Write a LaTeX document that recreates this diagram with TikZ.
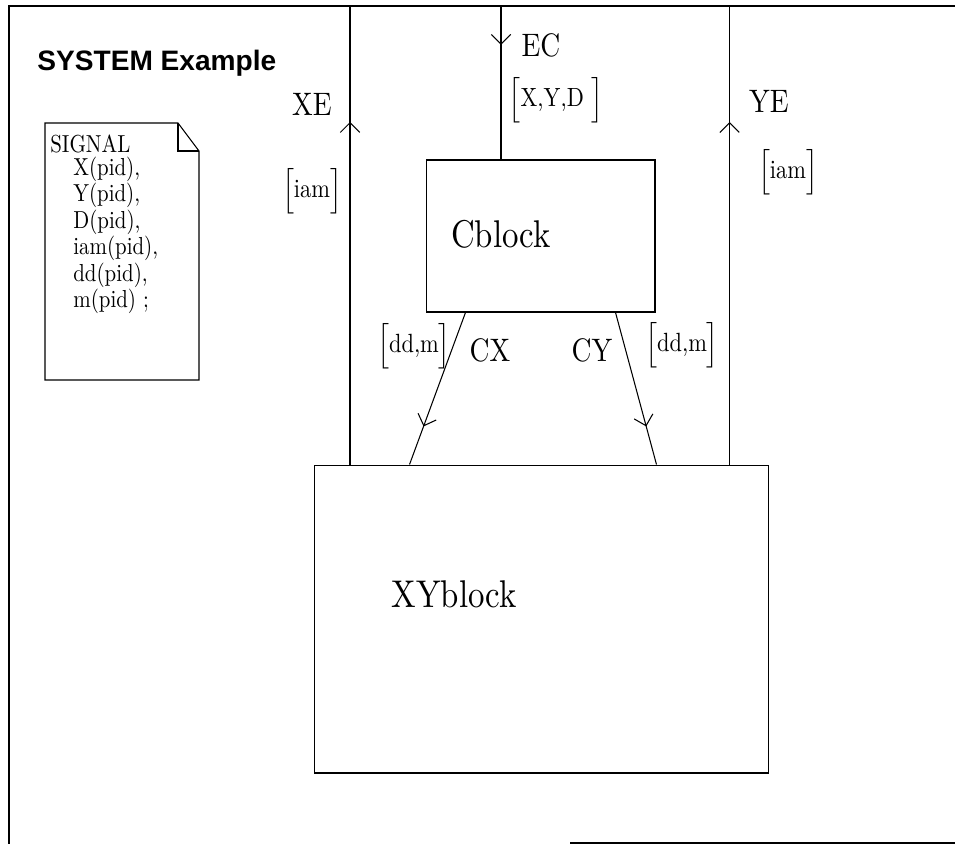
\documentclass[tikz,border=0pt]{standalone}
\usepackage{amsmath}
\usepackage{fontspec}
\setmainfont{lmroman10-regular.otf}[FakeStretch=0.85]
\newfontfamily\titlefont{Liberation Sans}
\usepackage{tikz}
\usetikzlibrary{arrows.meta, positioning, calc, decorations.markings}
\newcommand{\sigset}[1]{$\left[\rule[-6pt]{0pt}{17pt}\text{#1}\right]$}

\begin{document}
\begin{tikzpicture}[
    x=0.02cm, y=-0.02cm,
    every node/.style={inner sep=0pt},
    ln/.style={line width=0.6pt},
    blk/.style={draw, line width=0.6pt, rectangle},
    blktxt/.style={font=\fontsize{22}{26}\selectfont},
    chtxt/.style={font=\fontsize{18.5}{22}\selectfont},
    sigtxt/.style={font=\fontsize{14}{12.9}\selectfont},
    brtxt/.style={font=\fontsize{15}{18}\selectfont},
    midarr/.style={postaction={decorate}, decoration={markings,
        mark=at position #1 with {\arrow{Straight Barb[length=5.5pt,width=11pt]}}}},
]
  \useasboundingbox (0,0) rectangle (955,844);

  \draw[ln] (955,6) -- (9,6) -- (9,844);
  \draw[ln] (570,843) -- (955,843);

  \node[anchor=base west, font=\titlefont\bfseries\fontsize{16}{19}\selectfont] (title) at (37,71) {SYSTEM Example};

  \draw[ln] (45,123) -- (178,123) -- (199,151) -- (199,380) -- (45,380) -- cycle;
  \draw[ln] (178,123) -- (178,151) -- (199,151);
  \node[sigtxt, anchor=north west, align=left] (sig) at (50,135)
    {SIGNAL\\
     \hspace*{0.46cm}X(pid),\\
     \hspace*{0.46cm}Y(pid),\\
     \hspace*{0.46cm}D(pid),\\
     \hspace*{0.46cm}iam(pid),\\
     \hspace*{0.46cm}dd(pid),\\
     \hspace*{0.46cm}m(pid) ;};

  \node[blk, minimum width=4.58cm, minimum height=3.04cm] (Cblock) at (540.5,236) {};
  \node[blk, minimum width=9.1cm, minimum height=6.16cm] (XYblock) at (541.5,619) {};
  \node[blktxt] (ctxt) at (501,234) {Cblock};
  \node[blktxt] (xytxt) at (454,594) {XYblock};

  \coordinate (xe) at (350,6);
  \coordinate (ec) at (501,6);
  \coordinate (ye) at (729.5,6);

  \draw[ln, midarr=0.747] (XYblock.north -| xe) -- (xe);
  \draw[ln, midarr=0.253] (ec) -- (ec |- Cblock.north);
  \draw[ln, midarr=0.747] (XYblock.north -| ye) -- (ye);
  \draw[ln, midarr=0.75] ($(Cblock.south west)+(40,0)$) -- ($(XYblock.north west)+(96,0)$);
  \draw[ln, midarr=0.75] ($(Cblock.south east)+(-40,0)$) -- ($(XYblock.north east)+(-113,0)$);

  \node[chtxt] (lxe) at (312,104) {XE};
  \node[chtxt] (lec) at (541,45) {EC};
  \node[chtxt] (lye) at (769,101) {YE};
  \node[chtxt] (lcx) at (490,350) {CX};
  \node[chtxt] (lcy) at (592,350) {CY};

  \node[brtxt] (sxe) at (312,191) {\sigset{iam}};
  \node[brtxt] (sec) at (556,100) {\sigset{X,Y,D\ }};
  \node[brtxt] (sye) at (788,172) {\sigset{iam}};
  \node[brtxt] (scx) at (414,346) {\sigset{dd,m}};
  \node[brtxt] (scy) at (682,345) {\sigset{dd,m}};
\end{tikzpicture}
\end{document}
